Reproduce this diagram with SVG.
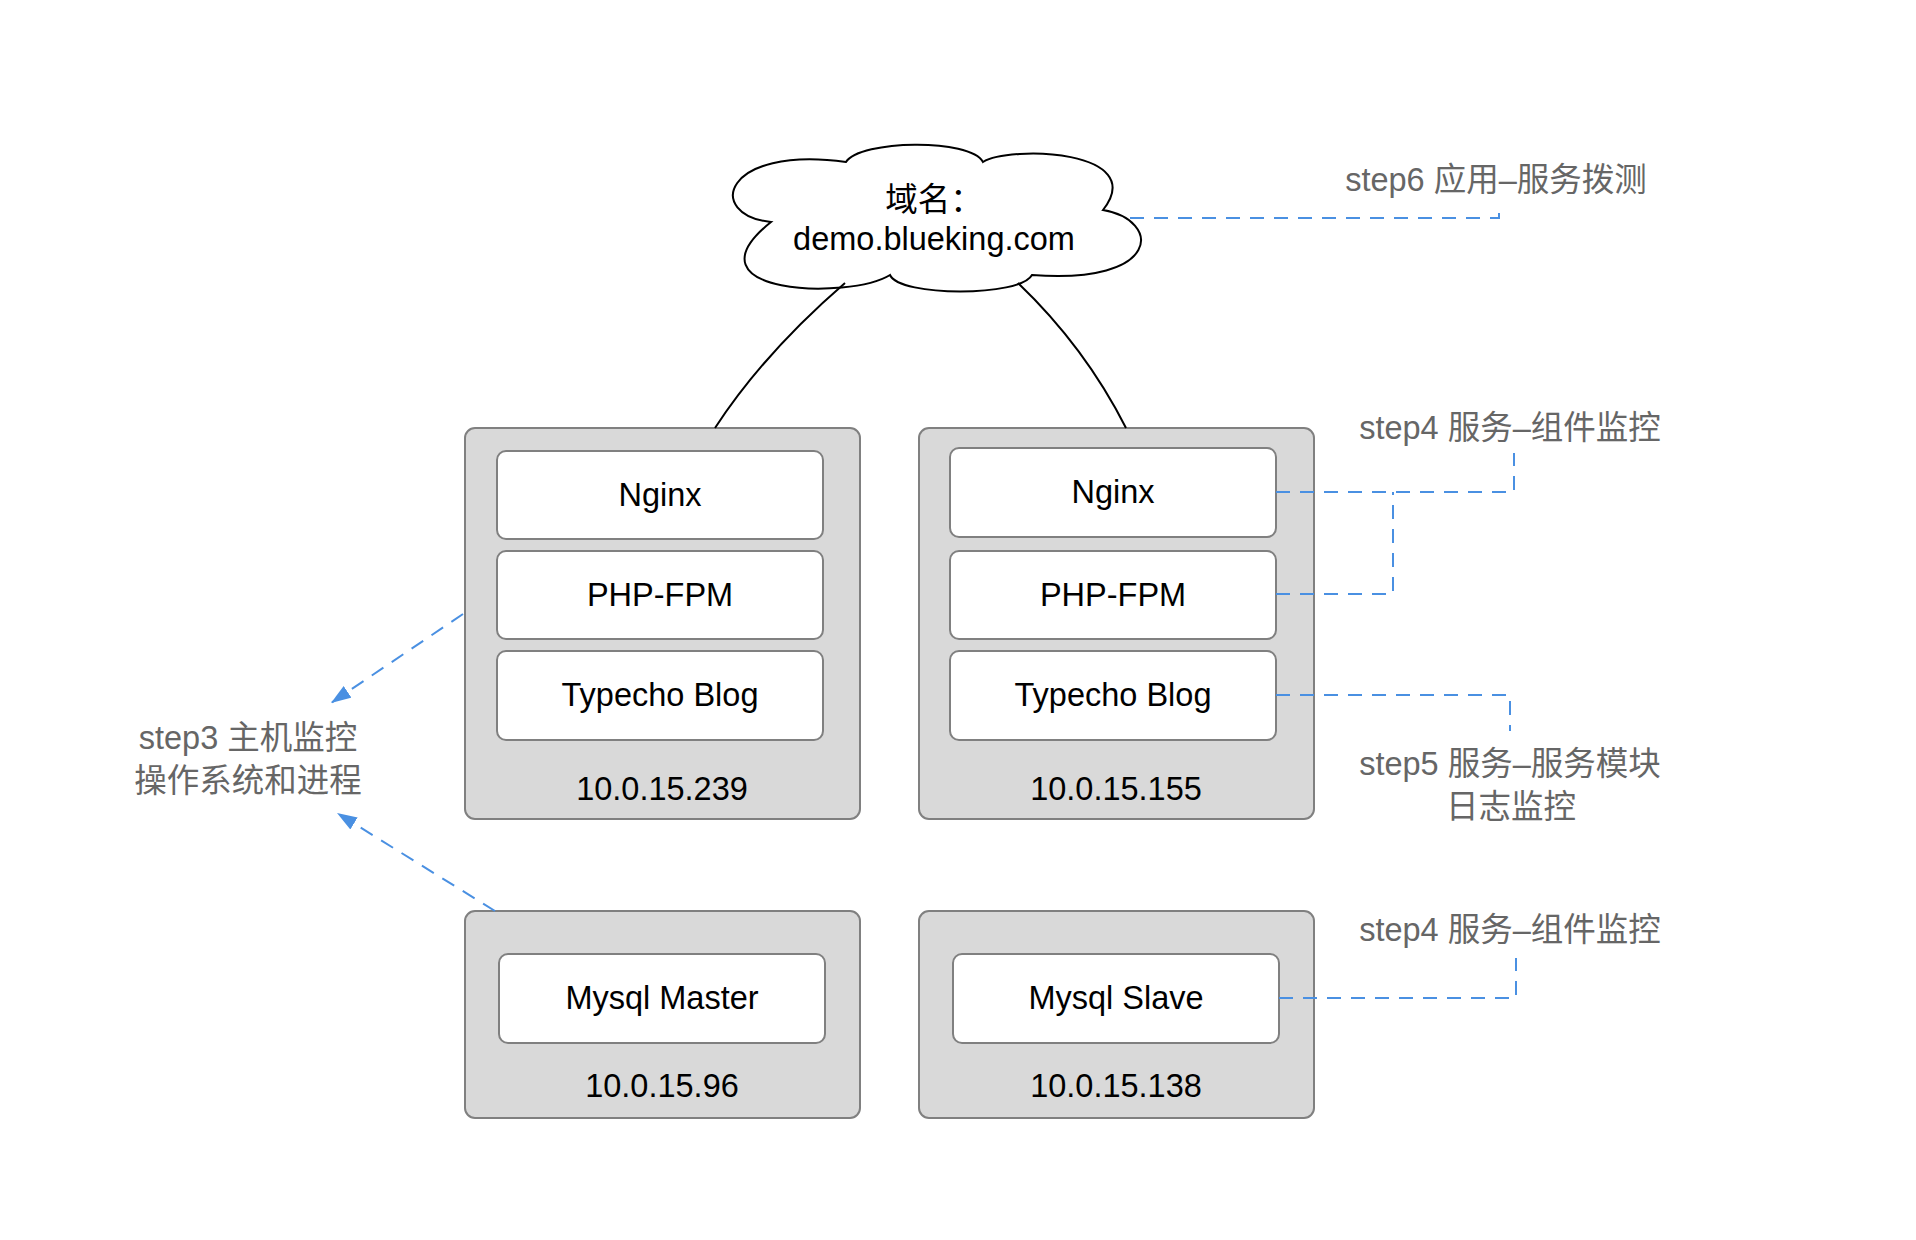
<svg xmlns="http://www.w3.org/2000/svg" width="1916" height="1240" viewBox="0 0 1916 1240">
<style>
.host{fill:#d9d9d9;stroke:#808080;stroke-width:2}
.svc{fill:#ffffff;stroke:#808080;stroke-width:2}
.t{font-family:"Liberation Sans","Noto Sans CJK SC",sans-serif;font-size:32.5px;fill:#000;text-anchor:middle}
.s{font-family:"Liberation Sans","Noto Sans CJK SC",sans-serif;font-size:32.5px;fill:#666;text-anchor:middle}
.dash{fill:none;stroke:#4a90e2;stroke-width:2;stroke-dasharray:14 10}
.link{fill:none;stroke:#000;stroke-width:2}
</style>
<defs>
<marker id="arr" markerUnits="userSpaceOnUse" markerWidth="22" markerHeight="16" refX="20" refY="7" orient="auto">
<path d="M0,0 L20,7 L0,14 z" fill="#4a90e2"/>
</marker>
</defs>
<rect width="1916" height="1240" fill="#ffffff"/>

<g id="cloud">
<path d="M771 222 C705 215 722 145 846 162 C860 140 970 138 983 162 C1010 145 1150 150 1103 210 C1162 220 1162 285 1032 275 C1020 297 900 297 890 275 C850 300 680 295 771 222 Z" fill="#fff" stroke="#000" stroke-width="2"/>
<text class="t" x="934" y="211">域名：</text>
<text class="t" x="934" y="250">demo.blueking.com</text>
</g>

<g id="host-239">
<rect class="host" x="465" y="428" width="395" height="391" rx="10"/>
<text class="t" x="662" y="800">10.0.15.239</text>
</g>
<g id="nginx-239">
<rect class="svc" x="497" y="451" width="326" height="88" rx="9"/>
<text class="t" x="660" y="506">Nginx</text>
</g>
<g id="php-239">
<rect class="svc" x="497" y="551" width="326" height="88" rx="9"/>
<text class="t" x="660" y="606">PHP-FPM</text>
</g>
<g id="blog-239">
<rect class="svc" x="497" y="651" width="326" height="89" rx="9"/>
<text class="t" x="660" y="706">Typecho Blog</text>
</g>

<g id="host-155">
<rect class="host" x="919" y="428" width="395" height="391" rx="10"/>
<text class="t" x="1116" y="800">10.0.15.155</text>
</g>
<g id="nginx-155">
<rect class="svc" x="950" y="448" width="326" height="89" rx="9"/>
<text class="t" x="1113" y="503">Nginx</text>
</g>
<g id="php-155">
<rect class="svc" x="950" y="551" width="326" height="88" rx="9"/>
<text class="t" x="1113" y="606">PHP-FPM</text>
</g>
<g id="blog-155">
<rect class="svc" x="950" y="651" width="326" height="89" rx="9"/>
<text class="t" x="1113" y="706">Typecho Blog</text>
</g>

<g id="host-96">
<rect class="host" x="465" y="911" width="395" height="207" rx="10"/>
<text class="t" x="662" y="1097">10.0.15.96</text>
</g>
<g id="mysql-master">
<rect class="svc" x="499" y="954" width="326" height="89" rx="9"/>
<text class="t" x="662" y="1009">Mysql Master</text>
</g>

<g id="host-138">
<rect class="host" x="919" y="911" width="395" height="207" rx="10"/>
<text class="t" x="1116" y="1097">10.0.15.138</text>
</g>
<g id="mysql-slave">
<rect class="svc" x="953" y="954" width="326" height="89" rx="9"/>
<text class="t" x="1116" y="1009">Mysql Slave</text>
</g>

<g id="step6"><text class="s" x="1496" y="191">step6 应用–服务拨测</text></g>
<g id="step4-top"><text class="s" x="1510" y="439">step4 服务–组件监控</text></g>
<g id="step5"><text class="s" x="1510" y="775">step5 服务–服务模块</text><text class="s" x="1511" y="818">日志监控</text></g>
<g id="step4-bottom"><text class="s" x="1510" y="941">step4 服务–组件监控</text></g>
<g id="step3"><text class="s" x="248" y="749">step3 主机监控</text><text class="s" x="248" y="792">操作系统和进程</text></g>

<g id="connectors">
<path class="link" d="M845 283 Q764 353 715 428"/>
<path class="link" d="M1018 283 Q1085 347 1126 428"/>
<path class="dash" d="M1130 218 H1499 V212"/>
<path class="dash" d="M1276 492 H1514 V453"/>
<path class="dash" d="M1276 594 H1393 V492"/>
<path class="dash" d="M1276 695 H1510 V731"/>
<path class="dash" d="M1279 998 H1516 V958"/>
<path class="dash" d="M463 614 L331 703" marker-end="url(#arr)"/>
<path class="dash" d="M495 911 L337 813" marker-end="url(#arr)"/>
</g>
</svg>
